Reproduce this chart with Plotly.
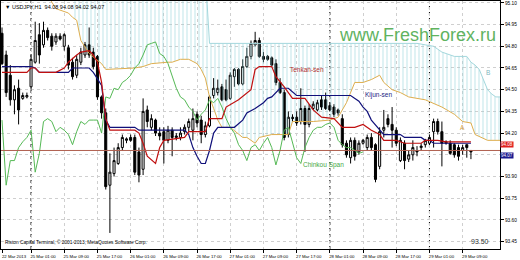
import plotly.graph_objects as go

# ---------------- data ----------------
bars = list(range(114))
open_ = [94.89,94.74,94.60,94.43,94.51,94.44,94.45,94.52,94.69,94.88,
         94.81,94.91,94.87,94.83,94.87,94.80,94.79,94.69,94.60,94.69,
         94.74,94.81,94.76,94.73,94.45,94.34,93.84,93.92,93.99,94.10,
         94.15,94.17,94.17,94.07,93.95,94.36,94.24,94.29,94.20,94.21,
         94.15,94.22,94.17,94.17,94.21,94.24,94.22,94.33,94.29,94.19,
         94.25,94.46,94.48,94.52,94.50,94.44,94.59,94.64,94.54,94.66,
         94.73,94.81,94.84,94.73,94.73,94.72,94.68,94.55,94.48,94.19,
         94.31,94.31,94.28,94.37,94.26,94.37,94.36,94.43,94.43,94.39,
         94.38,94.36,94.30,94.13,94.03,94.15,94.07,94.13,94.10,94.17,
         94.12,93.97,94.22,94.30,94.26,94.22,94.01,94.13,94.02,94.05,
         94.08,94.10,94.12,94.13,94.21,94.28,94.21,94.13,94.13,94.12,
         94.10,94.08,94.12,94.08]
high = [94.93,94.77,94.67,94.53,94.57,94.48,94.48,94.74,94.97,94.96,
        94.97,94.93,94.89,94.89,94.89,94.89,94.81,94.72,94.74,94.79,
        94.83,94.93,94.79,94.74,94.46,94.37,94.06,94.10,94.13,94.19,
        94.17,94.19,94.19,94.10,94.44,94.39,94.33,94.30,94.24,94.24,
        94.25,94.24,94.20,94.24,94.26,94.30,94.37,94.35,94.32,94.28,
        94.46,94.58,94.57,94.54,94.57,94.62,94.65,94.65,94.71,94.79,
        94.84,94.90,94.86,94.76,94.74,94.73,94.71,94.58,94.50,94.35,
        94.33,94.35,94.51,94.39,94.40,94.42,94.43,94.46,94.48,94.41,
        94.40,94.37,94.33,94.15,94.17,94.17,94.15,94.16,94.19,94.20,
        94.13,94.24,94.36,94.33,94.38,94.24,94.17,94.15,94.08,94.15,
        94.11,94.13,94.16,94.19,94.30,94.30,94.28,94.15,94.15,94.13,
        94.12,94.12,94.12,94.08]
low = [94.67,94.45,94.39,94.33,94.26,94.43,94.44,94.50,94.68,94.68,
       94.79,94.84,94.77,94.81,94.84,94.77,94.64,94.57,94.58,94.67,
       94.72,94.72,94.64,94.43,94.30,93.81,93.51,93.90,93.98,94.08,
       94.13,94.14,93.91,93.86,93.91,94.24,94.22,94.18,94.15,93.99,
       94.13,94.04,94.15,94.15,94.19,94.21,94.15,94.24,94.13,94.17,
       94.24,94.44,94.46,94.42,94.42,94.43,94.52,94.53,94.53,94.65,
       94.71,94.80,94.72,94.69,94.70,94.66,94.53,94.47,94.15,94.17,
       94.28,94.25,94.26,94.07,94.24,94.36,94.35,94.36,94.36,94.35,
       94.31,94.32,94.10,94.03,93.99,94.01,94.05,94.12,94.08,94.08,
       93.86,93.95,94.17,94.24,94.10,94.11,94.00,93.95,94.00,94.01,
       94.04,94.08,94.10,94.12,94.10,94.19,93.97,94.12,94.05,94.03,
       94.01,94.05,94.03,94.02]
close = [94.68,94.48,94.43,94.50,94.36,94.46,94.46,94.71,94.84,94.74,
         94.91,94.86,94.80,94.87,94.85,94.88,94.67,94.59,94.71,94.76,
         94.81,94.74,94.66,94.45,94.34,93.83,93.93,94.01,94.10,94.17,
         94.16,94.15,93.93,93.91,94.35,94.28,94.30,94.20,94.18,94.15,
         94.22,94.17,94.18,94.20,94.24,94.28,94.30,94.27,94.19,94.25,
         94.45,94.51,94.51,94.43,94.43,94.60,94.64,94.54,94.66,94.73,
         94.82,94.84,94.73,94.71,94.71,94.67,94.55,94.48,94.17,94.31,
         94.30,94.27,94.37,94.26,94.37,94.40,94.41,94.38,94.37,94.36,
         94.33,94.34,94.12,94.05,94.15,94.04,94.13,94.15,94.17,94.10,
         93.88,94.21,94.24,94.26,94.22,94.13,94.15,94.01,94.05,94.10,
         94.07,94.11,94.15,94.17,94.28,94.21,94.13,94.14,94.06,94.05,
         94.04,94.10,94.10,94.07]

tenkan_bar = [0,6,7,8,9,13,15,16,18,19,21,22,23,24,25,26,32,33,34,35,37,38,39,44,45,
              49,50,53,54,57,60,61,62,65,66,68,70,73,75,77,80,82,85,87,89,91,92,95,97,
              101,102,105,107,113]
tenkan_val = [94.62,94.62,94.65,94.65,94.62,94.62,94.65,94.69,94.74,94.76,94.77,94.74,
              94.69,94.55,94.30,94.22,94.22,94.20,94.13,94.04,93.99,94.10,94.15,94.17,
              94.21,94.21,94.30,94.30,94.38,94.43,94.50,94.64,94.66,94.66,94.59,94.52,
              94.44,94.44,94.36,94.31,94.30,94.24,94.24,94.26,94.22,94.19,94.15,94.15,
              94.13,94.13,94.15,94.15,94.14,94.14]

kijun_bar = [0,7,8,9,16,17,21,22,24,25,26,32,33,44,45,46,47,48,49,50,51,52,56,58,59,
             61,63,64,65,66,67,69,71,84,86,87,88,89,91,92,96,97,101,102,103,104,113]
kijun_val = [94.66,94.66,94.65,94.62,94.62,94.65,94.65,94.62,94.53,94.29,94.24,94.24,
             94.22,94.22,94.19,94.10,94.04,93.99,93.99,94.08,94.20,94.24,94.24,94.29,
             94.34,94.37,94.41,94.44,94.45,94.48,94.51,94.51,94.46,94.46,94.42,94.38,
             94.35,94.29,94.22,94.19,94.19,94.17,94.17,94.15,94.15,94.13,94.13]

senkou_a_bar = [11,13,16,17,18,19,21,24,25,32,34,36,40,41,43,45,47,48,49,50,51,52,53,
                55,58,59,61,62,65,69,70,75,79,81,83,84,85,87,89,91,92,94,96,98,102,106,
                109,111,113,114,117,121]
senkou_a_val = [95.15,95.06,95.03,95.00,94.98,94.84,94.75,94.68,94.64,94.65,94.66,94.68,
                94.69,94.69,94.71,94.71,94.68,94.64,94.58,94.45,94.37,94.29,94.24,94.24,
                94.17,94.17,94.13,94.17,94.19,94.19,94.28,94.28,94.29,94.31,94.41,94.48,
                94.55,94.55,94.57,94.60,94.55,94.50,94.48,94.45,94.43,94.38,94.33,94.28,
                94.27,94.19,94.15,94.15]

senkou_b_bar = [17,49,50,100,102,104,105,106,109,112,113,114,115,116,117,118,119,121]
senkou_b_val = [95.30,95.30,94.82,94.82,94.81,94.80,94.78,94.76,94.73,94.73,94.69,94.67,
                94.64,94.57,94.50,94.47,94.45,94.45]

chikou_val = [94.29,93.84,94.01,94.01,94.10,94.14,94.17,94.22,93.93,94.06,
              94.28,94.30,94.28,94.21,94.24,94.22,94.19,94.12,94.21,94.28,
              94.26,94.29,94.29,94.29,94.20,94.45,94.44,94.51,94.50,94.55,
              94.57,94.60,94.65,94.68,94.74,94.81,94.82,94.83,94.75,94.73,
              94.68,94.60,94.51,94.45,94.43,94.38,94.35,94.29,94.33,94.36,
              94.43,94.41,94.44,94.38,94.30,94.24,94.20,94.12,94.08,94.01,
              94.10,94.12,94.08,94.13,94.17,94.10,93.98,94.08,94.22,94.24,
              94.13,94.03,93.99,94.10,94.17,94.22,94.24,94.24,94.26,94.27,
              94.24,94.15,94.12,94.10,94.10,94.08,94.06,94.07]
chikou_bar = list(range(len(chikou_val)))

tick_bars = [0,7,15,23,31,39,47,55,63,71,79,87,95,103,111]
tick_labels = ["22 Mar 2013","25 Mar 01:00","25 Mar 09:00","25 Mar 17:00","26 Mar 01:00",
               "26 Mar 09:00","26 Mar 17:00","27 Mar 01:00","27 Mar 09:00","27 Mar 17:00",
               "28 Mar 01:00","28 Mar 09:00","28 Mar 17:00","29 Mar 01:00","29 Mar 09:00"]
price_ticks = [93.45,93.60,93.75,93.90,94.05,94.20,94.35,94.50,94.65,94.80,94.95,95.10]
price_tick_text = ["93.45","93.60","93.75","93.90","","94.20","94.35","94.50","94.65",
                   "94.80","94.95","95.10"]
separator_bars = [7,79,103]
bid_price = 94.08
ask_label = "94.08"
bid_label = "94.07"

FONT = "Liberation Sans"

fig = go.Figure()

# Kumo hatch between Span A and Span B
a_pairs = [(b, v) for b, v in zip(senkou_a_bar, senkou_a_val) if b >= senkou_b_bar[0]]
cloud_x = [b for b, _ in a_pairs] + senkou_b_bar[::-1]
cloud_y = [v for _, v in a_pairs] + senkou_b_val[::-1]
fig.add_trace(go.Scatter(
    x=cloud_x, y=cloud_y, mode="none", fill="toself",
    fillcolor="rgba(0,0,0,0)",
    fillpattern=dict(shape="|", fgcolor="#96d3da", bgcolor="rgba(0,0,0,0)",
                     size=4, solidity=0.3),
    hoverinfo="skip", showlegend=False))

fig.add_trace(go.Scatter(x=senkou_b_bar, y=senkou_b_val, mode="lines",
                         line=dict(color="#a3d7dc", width=1), showlegend=False))
fig.add_trace(go.Scatter(x=senkou_a_bar, y=senkou_a_val, mode="lines",
                         line=dict(color="#deae4e", width=1), showlegend=False))
fig.add_trace(go.Scatter(x=chikou_bar, y=chikou_val, mode="lines",
                         line=dict(color="#55b955", width=1), showlegend=False))
fig.add_trace(go.Scatter(x=kijun_bar, y=kijun_val, mode="lines",
                         line=dict(color="#10107a", width=1.2), showlegend=False))
fig.add_trace(go.Scatter(x=tenkan_bar, y=tenkan_val, mode="lines",
                         line=dict(color="#c01010", width=1.2), showlegend=False))

fig.add_trace(go.Candlestick(
    x=bars, open=open_, high=high, low=low, close=close,
    increasing=dict(line=dict(color="black", width=1), fillcolor="white"),
    decreasing=dict(line=dict(color="black", width=1), fillcolor="black"),
    whiskerwidth=0, showlegend=False))

shapes = [dict(type="line", xref="x", yref="paper", x0=b, x1=b, y0=0, y1=1,
               line=dict(color="black", width=1, dash="dot"), layer="below")
          for b in separator_bars]
shapes.append(dict(type="line", xref="paper", yref="y", x0=0, x1=1,
                   y0=bid_price, y1=bid_price,
                   line=dict(color="#b06050", width=1)))

annotations = [
    dict(text="www.FreshForex.ru", xref="paper", yref="paper", x=0.674, y=0.862,
         xanchor="left", yanchor="middle", showarrow=False,
         font=dict(family=FONT, size=18, color="#5fb35f")),
    dict(text="\u25bc USDJPY,H1  94.08 94.08 94.02 94.07", xref="paper", yref="paper",
         x=0.004, y=0.995, xanchor="left", yanchor="top", showarrow=False,
         font=dict(family=FONT, size=5.5, color="black")),
    dict(text="Riston Capital Terminal, \u00a9 2001-2013, MetaQuotes Software Corp.",
         xref="paper", yref="paper", x=0.005, y=0.03, xanchor="left", yanchor="middle",
         showarrow=False, font=dict(family=FONT, size=4.8, color="black")),
    dict(text="93.50", xref="paper", yref="paper", x=0.937, y=0.03,
         xanchor="left", yanchor="middle", showarrow=False,
         font=dict(family=FONT, size=7, color="#333333")),
    dict(text="Tenkan-sen", x=69, y=94.64, xanchor="left", yanchor="middle",
         showarrow=False, font=dict(family=FONT, size=6.5, color="#b03030")),
    dict(text="Kijun-sen", x=87, y=94.46, xanchor="left", yanchor="middle",
         showarrow=False, font=dict(family=FONT, size=6.5, color="#1a1a80")),
    dict(text="Chinkou Span", x=72, y=93.98, xanchor="left", yanchor="middle",
         showarrow=False, font=dict(family=FONT, size=6.5, color="#45a845")),
    dict(text="A", x=111, y=94.24, xanchor="center", yanchor="middle",
         showarrow=False, font=dict(family=FONT, size=6.5, color="#d4a040")),
    dict(text="B", x=117, y=94.62, xanchor="center", yanchor="middle",
         showarrow=False, font=dict(family=FONT, size=6.5, color="#7fb8c0")),
    dict(text=ask_label, xref="paper", yref="y", x=1, y=bid_price, yshift=2.5,
         xanchor="left", yanchor="bottom", showarrow=False, bgcolor="#e02020",
         borderpad=0, font=dict(family=FONT, size=4.5, color="white")),
    dict(text=bid_label, xref="paper", yref="y", x=1, y=bid_price, yshift=-1.5,
         xanchor="left", yanchor="top", showarrow=False, bgcolor="#1a1a90",
         borderpad=0, font=dict(family=FONT, size=4.5, color="white")),
]

fig.update_layout(
    width=520, height=260, autosize=False,
    margin=dict(l=1, r=20, t=1, b=11),
    paper_bgcolor="white", plot_bgcolor="white",
    font=dict(family=FONT, size=5, color="black"),
    showlegend=False, shapes=shapes, annotations=annotations,
    xaxis=dict(range=[-0.24, 120.0], tickvals=tick_bars, ticktext=tick_labels,
               tickangle=0, automargin=False, ticklabeloverflow="allow",
               ticks="outside", ticklen=3, tickcolor="black", ticklabelshift=12,
               showgrid=True, gridcolor="#cfcfcf", griddash="dot", gridwidth=1,
               showline=True, linecolor="black", linewidth=1, mirror=True,
               zeroline=False, rangeslider=dict(visible=False),
               tickfont=dict(size=4.3)),
    yaxis=dict(range=[93.399, 95.113], side="right", tickvals=price_ticks,
               ticktext=price_tick_text, ticks="outside", ticklen=3, tickcolor="black",
               automargin=False,
               showgrid=True, gridcolor="#cfcfcf", griddash="dot", gridwidth=1,
               showline=True, linecolor="black", linewidth=1, mirror=True,
               zeroline=False, tickfont=dict(size=4.8)),
)

fig.write_html("out.html")
